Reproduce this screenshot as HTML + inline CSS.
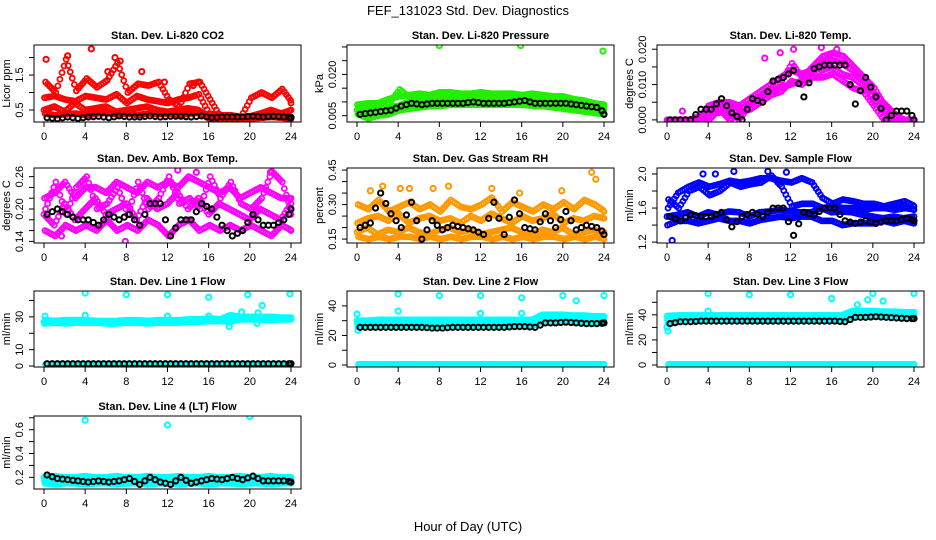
<!DOCTYPE html>
<html><head><meta charset="utf-8"><style>
body{margin:0;background:#fff}
svg{display:block;font-family:"Liberation Sans",sans-serif}
</style></head><body>
<svg id="chart" width="936" height="540" viewBox="0 0 936 540" xmlns="http://www.w3.org/2000/svg">
<rect width="936" height="540" fill="#fff"/>
<text x="468" y="15" font-size="13" text-anchor="middle">FEF_131023  Std. Dev. Diagnostics</text>
<text x="468" y="531" font-size="13" text-anchor="middle">Hour of Day (UTC)</text>
</svg>
<script>
// x-axis
const xTicks = [0,4,8,12,16,20,24];
// Panel titles / units
const titles = ["Stan. Dev. Li-820 CO2","Stan. Dev. Li-820 Pressure","Stan. Dev. Li-820 Temp.","Stan. Dev. Amb. Box Temp.","Stan. Dev. Gas Stream RH","Stan. Dev. Sample Flow","Stan. Dev. Line 1 Flow","Stan. Dev. Line 2 Flow","Stan. Dev. Line 3 Flow","Stan. Dev. Line 4 (LT) Flow"];
const yLabels = ["Licor ppm","kPa","degrees C","degrees C","percent","ml/min","ml/min","ml/min","ml/min","ml/min"];
const yRanges = [[0.157,2.36],[0.0027,0.0307],[-0.0006,0.0212],[0.137,0.276],[0.133,0.459],[1.19,2.07],[-0.6,45.8],[-1.35,50.1],[-1.6,59],[0.102,0.715]];
const yTicks = [[0.5,1,1.5,2],[0.005,0.01,0.015,0.02,0.025,0.03],[0,0.005,0.01,0.015,0.02],[0.14,0.16,0.18,0.2,0.22,0.24,0.26],[0.15,0.2,0.25,0.3,0.35,0.4,0.45],[1.2,1.4,1.6,1.8,2.0],[0,10,20,30,40],[0,10,20,30,40],[0,10,20,30,40,50],[0.2,0.3,0.4,0.5,0.6,0.7]];
const yTickLabels = [["0.5","","1.5",""],["0.005","","","0.020","",""],["0.000","","0.010","","0.020"],["0.14","","","0.20","","","0.26"],["0.15","","","0.30","","","0.45"],["1.2","","1.6","","2.0"],["0","10","","30",""],["0","","20","","40"],["0","","20","","40",""],["0.2","","0.4","","0.6",""]];
const colors = ["#ff0000","#22ee00","#ff00ff","#ff00ff","#ff9900","#0000ff","#00ffff","#00ffff","#00ffff","#00ffff"];

// Series values (hourly, 25 values each), four colored sub-series per panel
const s1 = [
[0.5,0.6,0.45,0.7,0.5,0.55,0.6,0.45,0.5,0.55,0.6,0.5,0.45,0.5,0.55,0.5,0.3,0.3,0.28,0.3,0.28,0.3,0.35,0.32,0.3],
[0.007,0.0065,0.0075,0.008,0.0085,0.010,0.010,0.010,0.011,0.011,0.011,0.0115,0.011,0.011,0.011,0.011,0.011,0.011,0.011,0.0105,0.0095,0.009,0.0085,0.008,0.007],
[0,0,0,0,0.002,0.002,0.003,0,0.004,0.006,0.008,0.009,0.01,0.011,0.012,0.014,0.015,0.013,0.012,0.01,0.008,0.005,0.002,0,0],
[0.19,0.17,0.21,0.18,0.2,0.22,0.19,0.2,0.21,0.18,0.22,0.2,0.21,0.23,0.2,0.22,0.19,0.21,0.2,0.19,0.18,0.2,0.19,0.18,0.21],
[0.18,0.2,0.17,0.19,0.18,0.2,0.18,0.17,0.19,0.2,0.18,0.19,0.17,0.18,0.19,0.2,0.18,0.17,0.19,0.18,0.2,0.17,0.18,0.19,0.18],
[1.5,1.52,1.55,1.5,1.55,1.52,1.56,1.55,1.5,1.55,1.56,1.58,1.56,1.55,1.55,1.6,1.55,1.56,1.55,1.52,1.5,1.48,1.5,1.48,1.5],
[27,27,27,27,27.5,27,27,26.5,27,27,27,27,27,27.5,27.5,28,28,28,28.5,29,29,29,29,29,29],
[30,30,30.5,30.5,30.5,30.5,30.5,30.5,30.5,30.5,30.5,30.5,30.5,30.5,30.5,30.5,30.5,30.5,34,34,34,33.5,33.5,33,33],
[39,39.5,39.5,39.5,39.5,39.5,39.5,39.5,39.5,39.5,39.5,39.5,39.5,39.5,39.5,39.5,39.5,39.5,43,43,43,42.5,42.5,42,42],
[0.2,0.21,0.2,0.2,0.21,0.2,0.2,0.21,0.2,0.2,0.21,0.2,0.2,0.21,0.2,0.2,0.21,0.2,0.2,0.21,0.2,0.2,0.21,0.2,0.2]];
const s2 = [
[0.85,0.9,0.8,0.75,0.9,0.85,0.8,0.95,0.7,0.9,0.8,0.75,0.7,0.8,0.85,0.95,0.4,0.35,0.35,0.3,0.32,0.4,0.5,0.4,0.5],
[0.009,0.0095,0.0095,0.011,0.012,0.0125,0.013,0.0125,0.0135,0.0135,0.013,0.013,0.0135,0.013,0.013,0.013,0.0125,0.013,0.0125,0.012,0.012,0.011,0.0105,0.0095,0.009],
[0,0,0,0,0.004,0.005,0.005,0.004,0.006,0.008,0.01,0.012,0.014,0.013,0.014,0.016,0.017,0.016,0.014,0.011,0.006,0.003,0,0,0],
[0.22,0.23,0.25,0.22,0.24,0.24,0.23,0.25,0.24,0.23,0.25,0.24,0.25,0.24,0.26,0.25,0.24,0.23,0.24,0.22,0.23,0.24,0.23,0.22,0.22],
[0.22,0.24,0.25,0.23,0.26,0.22,0.24,0.25,0.23,0.24,0.22,0.25,0.23,0.26,0.24,0.22,0.25,0.23,0.24,0.26,0.22,0.24,0.23,0.25,0.24],
[1.4,1.45,1.45,1.42,1.45,1.48,1.45,1.45,1.42,1.46,1.48,1.5,1.48,1.5,1.5,1.45,1.45,1.4,1.42,1.42,1.42,1.45,1.42,1.45,1.42],
[26,26.5,26,26.5,26.5,26.5,26,26,26.5,26.5,26,26.5,26.5,26.5,27,27,27.5,27.5,27,28.5,28.5,28.5,28,28.5,28.5],
[28,28.5,28.5,28.5,28.5,28.5,28.5,28.5,28.5,28.5,28.5,28.5,28.5,28.5,28.5,28.5,28.5,28,31.5,32,32,32,31.5,31.5,31.5],
[36,37.5,37.5,37.5,37.5,37.5,37.5,37.5,37.5,37.5,37.5,37.5,37.5,37.5,37.5,37.5,37.5,37.5,41,41,41,40.5,40.5,40,40],
[0.17,0.16,0.17,0.17,0.16,0.17,0.17,0.16,0.17,0.17,0.16,0.17,0.17,0.16,0.17,0.17,0.16,0.17,0.17,0.16,0.17,0.17,0.16,0.17,0.17]];
const s3 = [
[0.4,0.35,0.38,0.4,0.35,0.4,0.42,0.38,0.4,0.35,0.4,0.38,0.4,0.35,0.4,0.42,0.25,0.26,0.25,0.24,0.26,0.28,0.3,0.28,0.25],
[0.0055,0.004,0.005,0.0055,0.007,0.0075,0.008,0.0085,0.0085,0.009,0.009,0.009,0.009,0.009,0.009,0.009,0.009,0.0085,0.0085,0.008,0.0075,0.007,0.0065,0.006,0.0055],
[0,0,0,0,0,0.003,0,0.002,0.003,0.005,0.007,0.008,0.011,0.01,0.012,0.012,0.013,0.011,0.009,0.008,0.004,0,0,0,0],
[0.16,0.15,0.17,0.16,0.17,0.16,0.18,0.16,0.17,0.16,0.18,0.17,0.15,0.17,0.18,0.16,0.17,0.16,0.17,0.16,0.17,0.16,0.15,0.17,0.16],
[0.3,0.28,0.32,0.27,0.29,0.31,0.28,0.3,0.27,0.32,0.29,0.28,0.3,0.33,0.27,0.31,0.29,0.27,0.3,0.28,0.31,0.28,0.32,0.3,0.27],
[1.6,1.78,1.85,1.9,1.85,1.88,1.92,1.9,1.92,1.95,1.95,1.92,1.9,1.95,1.9,1.72,1.65,1.7,1.68,1.65,1.65,1.62,1.65,1.68,1.62],
[28,27.5,28,28,28,27.5,27.5,27.5,28,28,27.5,28,28,28,28.5,28.5,29,28.5,31,30,30,30,30,29.5,29.5],
[26,26.5,26.5,26.5,26.5,26.5,26.5,26.5,26.5,26.5,26.5,26.5,26.5,26.5,26.5,26.5,26.5,26.5,30,30,29.5,29.5,29.5,29,29],
[33,36,36,36,36,36,36,36,36,36,36,36,36,36,36,36,36,36,39,39,39,39,38.5,38,38],
[0.15,0.14,0.15,0.15,0.14,0.15,0.15,0.14,0.15,0.15,0.14,0.15,0.15,0.14,0.15,0.15,0.14,0.15,0.15,0.14,0.15,0.15,0.14,0.15,0.15]];
const s4 = [
[1.3,1.0,1.95,1.05,1.4,1.15,1.35,1.85,1.0,1.25,1.2,1.3,0.8,0.6,1.25,1.3,0.8,0.3,0.35,0.3,0.85,1.0,0.85,1.1,0.7],
[0.008,0.0075,0.0085,0.0095,0.0145,0.0115,0.0115,0.012,0.012,0.012,0.012,0.012,0.012,0.012,0.012,0.0115,0.012,0.0115,0.0115,0.0115,0.0105,0.0105,0.0095,0.009,0.0085],
[0,0,0,0.001,0.003,0.004,0.004,0.003,0.005,0.007,0.009,0.011,0.016,0.012,0.015,0.018,0.019,0.018,0.015,0.012,0.009,0.004,0.001,0,0],
[0.2,0.25,0.19,0.24,0.26,0.2,0.21,0.24,0.19,0.25,0.2,0.22,0.26,0.21,0.22,0.2,0.26,0.22,0.25,0.21,0.2,0.22,0.27,0.25,0.19],
[0.16,0.15,0.16,0.15,0.16,0.16,0.15,0.16,0.15,0.16,0.15,0.16,0.16,0.15,0.16,0.15,0.16,0.15,0.16,0.16,0.15,0.16,0.15,0.16,0.15],
[1.7,1.6,1.8,1.85,1.75,1.8,1.9,1.85,1.88,1.9,1.98,1.85,1.62,1.65,1.65,1.6,1.62,1.6,1.6,1.58,1.6,1.6,1.58,1.6,1.58],
[1,1,1,1,1,1,1,1,1,1,1,1,1,1,1,1,1,1,1,1,1,1,1,1,1],
[0.5,0.5,0.5,0.5,0.5,0.5,0.5,0.5,0.5,0.5,0.5,0.5,0.5,0.5,0.5,0.5,0.5,0.5,0.5,0.5,0.5,0.5,0.5,0.5,0.5],
[0.5,0.5,0.5,0.5,0.5,0.5,0.5,0.5,0.5,0.5,0.5,0.5,0.5,0.5,0.5,0.5,0.5,0.5,0.5,0.5,0.5,0.5,0.5,0.5,0.5],
[0.19,0.18,0.19,0.19,0.18,0.19,0.19,0.18,0.19,0.19,0.18,0.19,0.19,0.18,0.19,0.19,0.18,0.19,0.19,0.18,0.19,0.19,0.18,0.19,0.19]];
// Black (reference) series, hourly
const blackVals = [
[0.28,0.25,0.3,0.26,0.3,0.32,0.28,0.33,0.3,0.3,0.33,0.3,0.32,0.32,0.3,0.33,0.28,0.3,0.3,0.3,0.32,0.3,0.32,0.3,0.28],
[0.0055,0.006,0.0065,0.007,0.0085,0.0095,0.009,0.0095,0.0095,0.0095,0.0095,0.01,0.0095,0.0095,0.0095,0.01,0.0105,0.0095,0.0095,0.0095,0.0095,0.009,0.0085,0.008,0.0055],
[0,0,0,0.003,0.003,0.006,0.002,0,0.006,0.005,0.011,0.012,0.014,0.0065,0.0145,0.0155,0.0155,0.0155,0.0045,0.012,0.0065,0,0.0025,0.0025,0],
[0.19,0.2,0.19,0.18,0.18,0.17,0.19,0.18,0.19,0.17,0.21,0.21,0.15,0.18,0.18,0.21,0.2,0.17,0.15,0.16,0.19,0.17,0.17,0.18,0.2],
[0.2,0.22,0.35,0.26,0.2,0.31,0.15,0.23,0.19,0.21,0.2,0.19,0.17,0.31,0.17,0.32,0.2,0.19,0.26,0.2,0.27,0.19,0.21,0.2,0.17],
[1.5,1.45,1.52,1.5,1.5,1.55,1.38,1.5,1.55,1.5,1.6,1.6,1.28,1.55,1.52,1.6,1.6,1.45,1.42,1.45,1.42,1.45,1.45,1.48,1.45],
[1.4,1.4,1.4,1.4,1.4,1.4,1.4,1.4,1.4,1.4,1.4,1.4,1.4,1.4,1.4,1.4,1.4,1.4,1.4,1.4,1.4,1.4,1.4,1.4,1.4],
[25.5,25.5,25.5,25.5,25.5,25.5,25.5,25,25,25.5,25.5,25.5,25.5,25.5,25.5,26,26,25.5,28.5,28.5,29,28.5,28,28,28.5],
[33,34.5,34.5,35,35,35,35,35,35,35,35,35,35,35,35,35,35,34.5,38,38,38.5,38,37.5,37,37],
[0.22,0.19,0.18,0.17,0.16,0.17,0.16,0.17,0.19,0.14,0.2,0.16,0.14,0.2,0.15,0.17,0.19,0.18,0.2,0.18,0.21,0.17,0.17,0.17,0.16]];
// Outliers [hour, value]
const outliers = [
[[0.2,1.95],[2.3,2.05],[4.6,2.25],[6.9,2.0],[7.4,1.9],[6.2,1.6],[9.5,1.6],[11.7,1.3],[15,1.3],[14.5,1.2]],
[[8,0.0305],[15.9,0.0305],[23.9,0.0285]],
[[1.5,0.0025],[9.5,0.0175],[11,0.019],[12.3,0.02],[15,0.0205],[16.5,0.02]],
[[13,0.272],[7.9,0.14],[1.7,0.15],[14.8,0.268],[22,0.268]],
[[1.3,0.36],[2.5,0.38],[4.2,0.37],[5.1,0.37],[7.4,0.37],[8.9,0.38],[13.1,0.37],[15.8,0.35],[19.9,0.36],[22.8,0.44],[23.2,0.41]],
[[0.5,1.22],[4.7,2.0],[6.5,2.03],[9.8,2.03],[11.6,2.02],[3.5,2.0]],
[[0.1,30.5],[4,44.5],[4,31],[8,43.5],[12,43.5],[12,30.5],[16,42],[16,30.5],[18,24],[19.2,33],[19.8,43.5],[20.8,32.5],[20.7,26],[21.2,37],[23.9,44]],
[[0,34.5],[0.1,23.5],[4,48],[4,36.5],[8,47],[12,47],[12,35],[16,45.5],[16,35],[20,47],[21.3,43.5],[24,47]],
[[0,30],[0.1,27],[4,57],[4,43],[8,56],[12,56],[16,53],[18.5,48],[19.5,52],[20,57],[21,51],[24,57]],
[[4,0.68],[12,0.64],[20,0.71]]];

const NS="http://www.w3.org/2000/svg";
const svg=document.getElementById('chart');
const colX=[34,347,657], rowY=[[45,122],[168,243],[291,367],[416,489]], W=267;
function mk(t,a,p){const e=document.createElementNS(NS,t);for(const k in a)e.setAttribute(k,a[k]);(p||svg).appendChild(e);return e;}

titles.forEach((title,p)=>{
  const c=p%3,r=Math.floor(p/3);
  const L=colX[c],R=L+W,T=rowY[r][0],B=rowY[r][1];
  const g=mk('g',{});
  
  
  const xs=h=>L+10+(h/24)*(W-20);
  const [y0,y1]=yRanges[p];
  const ys=v=>B-(v-y0)/(y1-y0)*(B-T);
  const t=mk('text',{x:(L+R)/2,y:T-6,'font-size':11,'font-weight':'bold','text-anchor':'middle'},g);
  t.textContent=title;
  
  
  const cp=mk('clipPath',{id:'cp'+p},g);mk('rect',{x:L,y:T,width:W,height:B-T},cp);
  const pts=mk('g',{'clip-path':'url(#cp'+p+')'},g);
  const col=colors[p];
  const steps=[0,0.2,0.4,0.6,0.8];
  [s1,s2,s3,s4].forEach((S,k)=>{
    S[p].forEach((v,i)=>{
      const nv=i<24?S[p][i+1]:v;
      steps.forEach(f=>{
        if(i===24&&f>0) return;
        const h=Math.min(24,i+f+k*0.05);
        const e=mk('circle',{cx:xs(h),cy:ys(v+(nv-v)*f),r:2.5,fill:'none',stroke:col,'stroke-width':1.8},pts);
        
        
      });
    });
  });
  outliers[p].forEach(o=>{
    const e=mk('circle',{cx:xs(o[0]),cy:ys(o[1]),r:2.6,fill:'none',stroke:col,'stroke-width':2},pts);
    
    
  });
  blackVals[p].forEach((v,i)=>{
    const h=Math.min(24,i+0.3);
    const e=mk('circle',{cx:xs(h),cy:ys(v),r:2.6,fill:'none',stroke:'#000','stroke-width':2},pts);
    
    
    if(i<24){const e2=mk('circle',{cx:xs(h+0.5),cy:ys((v+blackVals[p][i+1])/2),r:2.6,fill:'none',stroke:'#000','stroke-width':2},pts);
      
      }
  });
  const box=mk('rect',{x:L,y:T,width:W,height:B-T,fill:'none',stroke:'#000','stroke-width':1},g);
  
  
  xTicks.forEach(h=>{
    mk('line',{x1:xs(h),x2:xs(h),y1:B,y2:B+5,stroke:'#000'},g);
    const tl=mk('text',{x:xs(h),y:B+18,'font-size':11,'text-anchor':'middle'},g);
    tl.textContent=h;
    
    
  });
  yTicks[p].forEach((v,i)=>{
    const y=ys(v); if(y<T-1||y>B+1) return;
    mk('line',{x1:L-5,x2:L,y1:y,y2:y,stroke:'#000'},g);
    const lab=yTickLabels[p][i];
    if(lab){const tl=mk('text',{x:L-11,y:y,'font-size':11,'text-anchor':'middle',transform:`rotate(-90 ${L-11} ${y})`},g);
      tl.textContent=lab;
      
      }
  });
  const yl=mk('text',{x:L-24,y:(T+B)/2,'font-size':11,'text-anchor':'middle',transform:`rotate(-90 ${L-24} ${(T+B)/2})`},g);
  yl.textContent=yLabels[p];
  
  
});
</script>
</body></html>
